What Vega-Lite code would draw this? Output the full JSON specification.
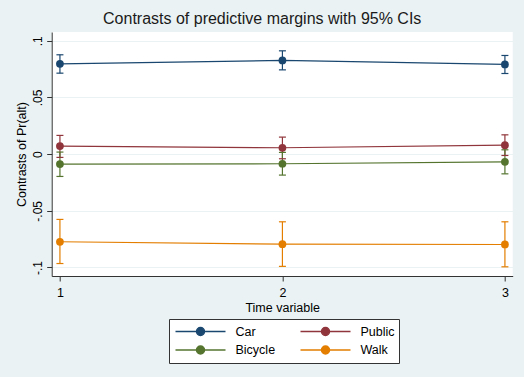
{
  "$schema": "https://vega.github.io/schema/vega-lite/v6.json",
  "width": 461,
  "height": 244,
  "autosize": {"type": "none"},
  "padding": {"left": 51.7, "top": 32, "right": 11.3, "bottom": 101},
  "background": "#EAF2F3",
  "title": {
    "text": "Contrasts of predictive margins with 95% CIs",
    "font": "Liberation Sans",
    "fontSize": 16,
    "fontWeight": "normal",
    "color": "#1a1a1a",
    "anchor": "middle",
    "dx": -20,
    "offset": 5
  },
  "data": {
    "values": [
      {"time": 1, "group": "Car", "est": 0.0796, "lo": 0.0714, "hi": 0.0876},
      {"time": 2, "group": "Car", "est": 0.0826, "lo": 0.0743, "hi": 0.0911},
      {"time": 3, "group": "Car", "est": 0.0791, "lo": 0.0711, "hi": 0.0870},
      {"time": 1, "group": "Public", "est": 0.0071, "lo": -0.0029, "hi": 0.0165},
      {"time": 2, "group": "Public", "est": 0.0056, "lo": -0.0041, "hi": 0.0150},
      {"time": 3, "group": "Public", "est": 0.0079, "lo": -0.0012, "hi": 0.0170},
      {"time": 1, "group": "Bicycle", "est": -0.0088, "lo": -0.0197, "hi": 0.0018},
      {"time": 2, "group": "Bicycle", "est": -0.0085, "lo": -0.0185, "hi": 0.0015},
      {"time": 3, "group": "Bicycle", "est": -0.0068, "lo": -0.0174, "hi": 0.0038},
      {"time": 1, "group": "Walk", "est": -0.0773, "lo": -0.0965, "hi": -0.0576},
      {"time": 2, "group": "Walk", "est": -0.0794, "lo": -0.0990, "hi": -0.0597},
      {"time": 3, "group": "Walk", "est": -0.0797, "lo": -0.0994, "hi": -0.0597}
    ]
  },
  "encoding": {
    "x": {
      "field": "time",
      "type": "quantitative",
      "title": "Time variable",
      "scale": {"domain": [0.963, 3.035], "nice": false, "zero": false},
      "axis": {"values": [1, 2, 3], "labelExpr": "datum.value == 1 ? '1' : datum.value == 2 ? '2' : '3'", "grid": false, "labelPadding": 5, "titlePadding": 3, "labelOverlap": false, "labelFlush": false, "labelFontSize": 12.5}
    },
    "color": {
      "field": "group",
      "type": "nominal",
      "scale": {"domain": ["Car", "Public", "Bicycle", "Walk"], "range": ["#1A476F", "#90353B", "#55752F", "#E37E00"]},
      "legend": {
        "title": null,
        "orient": "none",
        "legendX": 117.3,
        "legendY": 287,
        "columns": 2,
        "direction": "horizontal",
        "symbolType": "M-1,0L1,0M0.16,0A0.16,0.16,0,1,1,-0.16,0A0.16,0.16,0,1,1,0.16,0Z",
        "symbolSize": 2500,
        "symbolStrokeWidth": 1.5,
        "symbolOffset": 2,
        "labelOffset": 9,
        "labelFont": "Liberation Sans",
        "labelFontSize": 12.5,
        "labelColor": "#000000",
        "clipHeight": 18,
        "rowPadding": 0.5,
        "columnPadding": 22,
        "padding": 3.5,
        "strokeColor": "#333333",
        "fillColor": "white",
        "cornerRadius": 0,
        "encode": {
          "symbols": {
            "update": {
              "fill": {"scale": "color", "field": "value"},
              "stroke": {"scale": "color", "field": "value"},
              "size": {"value": 2500},
              "strokeWidth": {"value": 1.5},
              "opacity": {"value": 1}
            }
          }
        }
      }
    }
  },
  "layer": [
    {
      "mark": {"type": "rule", "strokeWidth": 1.2},
      "encoding": {
        "y": {"field": "lo", "type": "quantitative"},
        "y2": {"field": "hi"}
      }
    },
    {
      "mark": {"type": "tick", "orient": "horizontal", "size": 7, "thickness": 1.2, "opacity": 1},
      "encoding": {"y": {"field": "lo", "type": "quantitative"}}
    },
    {
      "mark": {"type": "tick", "orient": "horizontal", "size": 7, "thickness": 1.2, "opacity": 1},
      "encoding": {"y": {"field": "hi", "type": "quantitative"}}
    },
    {
      "mark": {"type": "line", "strokeWidth": 1.2},
      "encoding": {
        "y": {"field": "est", "type": "quantitative"}
      }
    },
    {
      "mark": {"type": "point", "filled": true, "size": 60, "opacity": 1, "shape": "circle"},
      "encoding": {
        "y": {
          "field": "est",
          "type": "quantitative",
          "title": "Contrasts of Pr(alt)",
          "scale": {"domain": [-0.1075, 0.1077], "nice": false, "zero": false},
          "axis": {
            "values": [-0.1, -0.05, 0, 0.05, 0.1],
            "labelExpr": "datum.value > 0.09 ? '.1' : datum.value > 0.04 ? '.05' : datum.value > -0.01 ? '0' : datum.value > -0.06 ? '-.05' : '-.1'",
            "labelAngle": -90,
            "labelAlign": "center",
            "labelBaseline": "bottom",
            "labelPadding": 2,
            "titlePadding": 3,
            "labelOverlap": false,
            "grid": true
          }
        }
      }
    }
  ],
  "config": {
    "view": {"fill": "white", "stroke": null},
    "axis": {
      "labelFont": "Liberation Sans",
      "labelFontSize": 12,
      "labelColor": "#000000",
      "titleFont": "Liberation Sans",
      "titleFontSize": 12.5,
      "titleFontWeight": "normal",
      "titleColor": "#000000",
      "domainColor": "#333333",
      "tickColor": "#333333",
      "tickSize": 5,
      "gridColor": "#EAF2F3",
      "gridWidth": 1
    }
  }
}
